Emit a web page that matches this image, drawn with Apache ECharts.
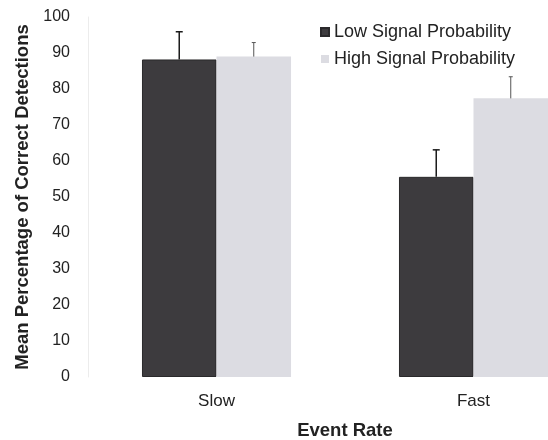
<!DOCTYPE html>
<html>
<head>
<meta charset="utf-8">
<script src="https://cdn.jsdelivr.net/npm/echarts@6/dist/echarts.min.js"></script>
<style>html,body{margin:0;padding:0;background:#fff;}#c{width:548px;height:440px;}</style>
</head>
<body>
<div id="c"></div>
<script>
var categories = ['Slow', 'Fast'];
var seriesNames = ['Low Signal Probability', 'High Signal Probability'];
var lowValues = [88.2, 55.6];
var highValues = [89.0, 77.4];
var lowErrors = [7.7, 7.5];
var highErrors = [3.9, 6.0];
var yTicks = [0, 10, 20, 30, 40, 50, 60, 70, 80, 90, 100];

var chart = echarts.init(document.getElementById('c'), null, {renderer: 'canvas'});
var FONT = 'Liberation Sans, Arial, sans-serif';

function errSeries(values, errors, sideIndex, color, capHalf, lw) {
  return {
    type: 'custom',
    name: seriesNames[sideIndex] + ' error',
    z: 5,
    silent: true,
    clip: false,
    data: categories.map(function (c, i) { return [i, values[i], values[i] + errors[i]]; }),
    renderItem: function (params, api) {
      var idx = api.value(0);
      var base = api.coord([idx, api.value(1)]);
      var top = api.coord([idx, api.value(2)]);
      var catW = api.size([1, 0])[0];
      var barW = catW * 0.58 / 2;
      var x = base[0] + (sideIndex === 0 ? -barW / 2 : barW / 2);
      return {
        type: 'group',
        children: [
          {type: 'line', shape: {x1: x, y1: base[1], x2: x, y2: top[1]}, style: {stroke: color, lineWidth: lw}},
          {type: 'line', shape: {x1: x - capHalf, y1: top[1], x2: x + capHalf, y2: top[1]}, style: {stroke: color, lineWidth: lw}}
        ]
      };
    }
  };
}

var option = {
  backgroundColor: '#ffffff',
  animation: false,
  legend: {
    data: seriesNames,
    orient: 'vertical',
    left: 315,
    top: 18,
    itemWidth: 8,
    itemHeight: 8,
    itemGap: 9,
    icon: 'rect',
    textStyle: {fontFamily: FONT, fontSize: 18, color: '#222'}
  },
  grid: {left: 88, top: 17, width: 514, height: 360, containLabel: false, outerBoundsMode: 'none'},
  xAxis: {
    type: 'category',
    data: categories,
    axisLine: {show: false},
    axisTick: {show: false},
    axisLabel: {fontFamily: FONT, fontSize: 17, color: '#222', margin: 16},
    name: 'Event Rate',
    nameLocation: 'middle',
    nameGap: 44,
    nameTextStyle: {fontFamily: FONT, fontSize: 18.5, fontWeight: 'bold', color: '#222'}
  },
  yAxis: {
    type: 'value',
    min: 0,
    max: 100,
    interval: 10,
    axisLine: {show: true, lineStyle: {color: '#ececec', width: 1}},
    axisTick: {show: false},
    splitLine: {show: false},
    axisLabel: {fontFamily: FONT, fontSize: 16, color: '#222', margin: 18},
    name: 'Mean Percentage of Correct Detections',
    nameLocation: 'middle',
    nameGap: 55,
    nameTextStyle: {fontFamily: FONT, fontSize: 18.5, fontWeight: 'bold', color: '#222'}
  },
  series: [
    {
      name: seriesNames[0],
      type: 'bar',
      data: lowValues,
      barGap: '0%',
      barCategoryGap: '42%',
      itemStyle: {color: '#3d3b3e', borderColor: '#2a292b', borderWidth: 1}
    },
    {
      name: seriesNames[1],
      type: 'bar',
      data: highValues,
      barGap: '0%',
      barCategoryGap: '42%',
      itemStyle: {color: '#dcdce2'}
    },
    errSeries(lowValues, lowErrors, 0, '#1a1a1a', 3.5, 1.5),
    errSeries(highValues, highErrors, 1, '#555', 2, 1)
  ]
};
chart.setOption(option);
</script>
</body>
</html>
